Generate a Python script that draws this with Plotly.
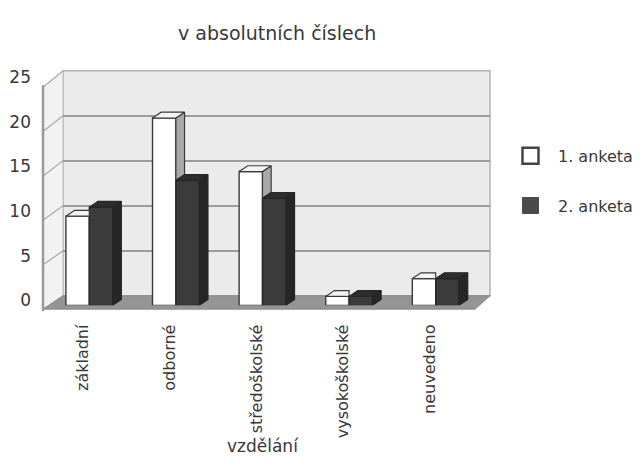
import plotly.graph_objects as go

categories = ["základní", "odborné", "středoškolské", "vysokoškolské", "neuvedeno"]
anketa1 = [10, 21, 15, 1, 3]
anketa2 = [11, 14, 12, 1, 3]
y_ticks = [0, 5, 10, 15, 20, 25]
series_names = ["1. anketa", "2. anketa"]

# page has an 8px body margin, so the figure is drawn 8px in from the corner
OFF = 8
W, H = 644 - OFF, 474 - OFF
FONT = "DejaVu Sans, Verdana, sans-serif"
TXT = "#383838"


def px(x):
    return (x - OFF) / W


def py(y):
    return 1 - (y - OFF) / H


# geometry in reference pixels
back = dict(l=63, r=490, top=58, bot=293)
front = dict(l=46, r=479, top=70, bot=303)

# 3D styling (category units / value units)
BW = 0.27     # bar width
DX = 0.10     # depth offset in x
DY = 0.65     # depth offset in y

xs = list(range(len(categories)))

fig = go.Figure()

# invisible trace to create the back-wall subplot
fig.add_trace(go.Scatter(x=[0], y=[0], xaxis="x", yaxis="y", mode="markers",
                         marker=dict(opacity=0), showlegend=False, hoverinfo="skip"))

fig.add_trace(go.Bar(x=xs, y=anketa1, xaxis="x2", yaxis="y2", name=series_names[0],
                     width=BW, offset=-BW,
                     marker=dict(color="white", line=dict(color="#3a3a3a", width=1.4)),
                     showlegend=False))
fig.add_trace(go.Bar(x=xs, y=anketa2, xaxis="x2", yaxis="y2", name=series_names[1],
                     width=BW, offset=0,
                     marker=dict(color="#3b3b3b", line=dict(color="#262626", width=1.4)),
                     showlegend=False))


def poly_trace(xp, yp, fill, line):
    return go.Scatter(x=xp, y=yp, xaxis="x2", yaxis="y2", mode="lines", fill="toself",
                      fillcolor=fill, line=dict(color=line, width=1.2),
                      showlegend=False, hoverinfo="skip")


# white bar: side face (visible part above the dark bar) and top face
wsx, wsy, wtx, wty = [], [], [], []
for i, vw, vb in zip(xs, anketa1, anketa2):
    x0, x1 = i - BW, i
    if vw > vb:
        wsx += [x1, x1, x1 + DX, x1 + DX, x1, None]
        wsy += [vb, vw, vw + DY, vb + DY, vb, None]
        wtx += [x0, x1, x1 + DX, x0 + DX, x0, None]
        wty += [vw, vw, vw + DY, vw + DY, vw, None]
    else:
        wtx += [x0, x1, x1, x0 + DX, x0, None]
        wty += [vw, vw, vw + DY, vw + DY, vw, None]
fig.add_trace(poly_trace(wsx, wsy, "#a9a9a9", "#3a3a3a"))
fig.add_trace(poly_trace(wtx, wty, "#f4f4f4", "#3a3a3a"))

# dark bar: top face and side face
btx, bty, bsx, bsy = [], [], [], []
for i, vb in zip(xs, anketa2):
    x1, x2 = i, i + BW
    btx += [x1, x2, x2 + DX, x1 + DX, x1, None]
    bty += [vb, vb, vb + DY, vb + DY, vb, None]
    bsx += [x2, x2, x2 + DX, x2 + DX, x2, None]
    bsy += [0, vb, vb + DY, DY, 0, None]
fig.add_trace(poly_trace(btx, bty, "#2e2e2e", "#262626"))
fig.add_trace(poly_trace(bsx, bsy, "#262626", "#262626"))

# legend entries
fig.add_trace(go.Scatter(x=[None], y=[None], xaxis="x2", yaxis="y2", mode="markers",
                         name=series_names[0], legendgroup="a",
                         marker=dict(symbol="square", size=16, color="white",
                                     line=dict(color="#444", width=2.5))))
fig.add_trace(go.Scatter(x=[None], y=[None], xaxis="x2", yaxis="y2", mode="markers",
                         name=series_names[1], legendgroup="b",
                         marker=dict(symbol="square", size=16, color="#4a4a4a",
                                     line=dict(color="#4a4a4a", width=1))))

shapes = []
# back wall
shapes.append(dict(type="rect", xref="paper", yref="paper", layer="below",
                   x0=px(back["l"]), x1=px(back["r"]), y0=py(back["bot"]), y1=py(back["top"]),
                   fillcolor="#ebebeb", line=dict(color="#b4b4b4", width=1.5)))
# side wall
shapes.append(dict(type="path", xref="paper", yref="paper", layer="below",
                   path=f"M {px(43)},{py(307)} L {px(back['l'])},{py(back['bot'])} "
                        f"L {px(back['l'])},{py(back['top'])} L {px(43)},{py(75)} Z",
                   fillcolor="#f2f2f2", line=dict(color="#c0c0c0", width=1)))
# floor
shapes.append(dict(type="path", xref="paper", yref="paper", layer="below",
                   path=f"M {px(43)},{py(307)} L {px(475)},{py(307)} "
                        f"L {px(back['r'])},{py(back['bot'])} L {px(back['l'])},{py(back['bot'])} Z",
                   fillcolor="#959595", line=dict(color="#8a8a8a", width=1)))
# side-wall diagonals at the ticks
for v in y_ticks[1:]:
    yf = 307 - (307 - 75) * v / 25
    yb = back["bot"] - (back["bot"] - back["top"]) * v / 25
    shapes.append(dict(type="line", xref="paper", yref="paper", layer="below",
                       x0=px(43), y0=py(yf), x1=px(back["l"]), y1=py(yb),
                       line=dict(color="#a8a8a8", width=1.2)))
# front vertical axis line
shapes.append(dict(type="line", xref="paper", yref="paper", layer="above",
                   x0=px(43), x1=px(43), y0=py(309), y1=py(73),
                   line=dict(color="#9a9a9a", width=2.5)))

annotations = [
    dict(text="v absolutních číslech", x=px(277), y=py(18), xref="paper", yref="paper",
         showarrow=False, font=dict(family=FONT, size=19, color=TXT), xanchor="center",
         yanchor="middle"),
    dict(text="vzdělání", x=px(263), y=py(450), xref="paper", yref="paper",
         showarrow=False, font=dict(family=FONT, size=17, color=TXT), xanchor="center",
         yanchor="middle"),
]

fig.update_layout(
    width=W, height=H,
    margin=dict(l=0, r=0, t=0, b=0),
    paper_bgcolor="white",
    plot_bgcolor="rgba(0,0,0,0)",
    font=dict(family=FONT, color=TXT),
    barmode="overlay",
    shapes=shapes,
    annotations=annotations,
    xaxis=dict(domain=[px(back["l"]), px(back["r"])], visible=False, range=[-1, 1]),
    yaxis=dict(domain=[py(back["bot"]), py(back["top"])], range=[0, 25], tickvals=y_ticks,
               showgrid=True, gridcolor="#9c9c9c", gridwidth=1.5, showticklabels=False,
               zeroline=False, showline=False, ticks=""),
    xaxis2=dict(domain=[px(front["l"]), px(front["r"])], anchor="y2",
                range=[-0.5, len(categories) - 0.5], tickvals=xs, ticktext=categories,
                tickangle=-90, ticks="", showgrid=False, showline=False, zeroline=False,
                tickfont=dict(family=FONT, size=16, color=TXT),
                ticklabelstandoff=15, ticklabelshift=-6),
    yaxis2=dict(domain=[py(front["bot"]), py(front["top"])], anchor="x2", range=[0, 25],
                tickvals=y_ticks, showgrid=False, zeroline=False, showline=False, ticks="",
                tickfont=dict(family=FONT, size=17, color=TXT),
                ticklabelshift=-5, ticklabelstandoff=14),
    legend=dict(x=px(503), y=py(129), xanchor="left", yanchor="top",
                font=dict(family=FONT, size=16, color=TXT),
                tracegroupgap=26, itemwidth=45, bgcolor="rgba(0,0,0,0)"),
)

fig.write_html("out.html")
